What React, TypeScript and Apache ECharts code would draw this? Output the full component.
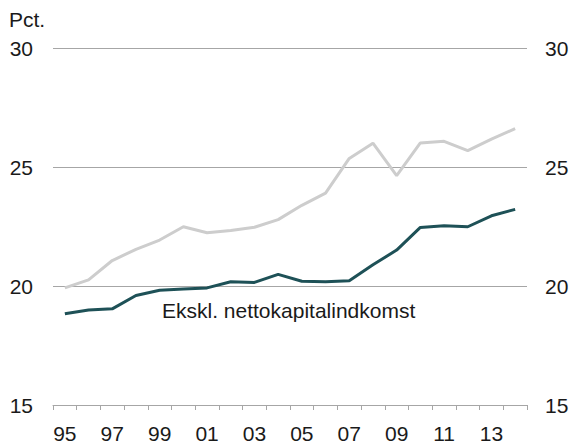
import React, { useEffect, useRef } from "react";
import * as echarts from "echarts";

const years = ["1995","1996","1997","1998","1999","2000","2001","2002","2003","2004","2005","2006","2007","2008","2009","2010","2011","2012","2013","2014"];
const totalSeries = [19.92, 20.26, 21.07, 21.54, 21.93, 22.49, 22.24, 22.33, 22.47, 22.79, 23.39, 23.9, 25.36, 26.0, 24.64, 26.01, 26.08, 25.69, 26.17, 26.61];
const ekskl = [18.83, 18.99, 19.04, 19.6, 19.82, 19.87, 19.92, 20.18, 20.15, 20.49, 20.2, 20.18, 20.22, 20.89, 21.51, 22.46, 22.53, 22.49, 22.95, 23.22];
const unitLabel = "Pct.";
const seriesLabel = "Ekskl. nettokapitalindkomst";

const FONT = "'Liberation Sans', Arial, sans-serif";

export default function App() {
  const ref = useRef<HTMLDivElement>(null);
  useEffect(() => {
    if (!ref.current) return;
    const chart = echarts.init(ref.current, null, { renderer: "svg" });
    const yAxisCommon = {
      type: "value" as const,
      min: 15,
      max: 30,
      interval: 5,
      axisLine: { show: false },
      axisTick: { show: false },
      splitLine: { show: true, lineStyle: { color: "#a6a6a6", width: 1 } },
      axisLabel: { color: "#1a1a1a", fontSize: 21, fontFamily: FONT },
    };
    chart.setOption({
      animation: false,
      textStyle: { fontFamily: FONT },
      grid: { left: 53, right: 45, top: 48, bottom: 36, containLabel: false },
      xAxis: {
        type: "category",
        data: years,
        boundaryGap: true,
        axisLine: { show: true, lineStyle: { color: "#a6a6a6", width: 1 } },
        axisTick: { show: true, inside: false, length: 5, interval: 0, lineStyle: { color: "#a6a6a6" } },
        axisLabel: {
          color: "#1a1a1a",
          fontSize: 21,
          fontFamily: FONT,
          margin: 18,
          interval: 1,
          formatter: (v: string) => v.slice(2),
        },
      },
      yAxis: [
        { ...yAxisCommon, position: "left", axisLabel: { ...yAxisCommon.axisLabel, margin: 20 } },
        { ...yAxisCommon, position: "right", splitLine: { show: false }, axisLabel: { ...yAxisCommon.axisLabel, margin: 18 } },
      ],
      series: [
        {
          type: "line",
          data: totalSeries,
          symbol: "none",
          lineStyle: { color: "#cdcdcd", width: 3 },
          z: 2,
        },
        {
          type: "line",
          data: ekskl,
          symbol: "none",
          lineStyle: { color: "#1e5157", width: 3 },
          z: 3,
        },
      ],
      graphic: [
        {
          type: "text",
          left: 9,
          top: 9,
          style: { text: unitLabel, fill: "#1a1a1a", font: `21px ${FONT}` },
        },
        {
          type: "text",
          left: 162,
          top: 300,
          style: { text: seriesLabel, fill: "#1a1a1a", font: `21px ${FONT}` },
        },
      ],
    });
    return () => chart.dispose();
  }, []);
  return <div ref={ref} style={{ width: 572, height: 444, position: "absolute", left: 0, top: 0 }} />;
}
